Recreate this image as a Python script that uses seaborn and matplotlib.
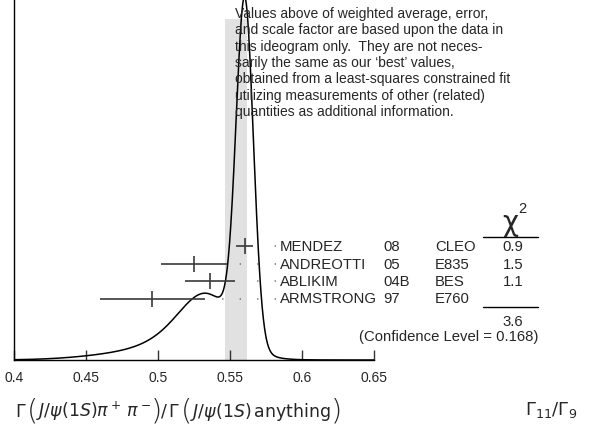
import numpy as np
import pandas as pd
import seaborn as sns
import matplotlib.pyplot as plt
from matplotlib.lines import Line2D

names = ["MENDEZ", "ANDREOTTI", "ABLIKIM", "ARMSTRONG"]
years = ["08", "05", "04B", "97"]
experiments = ["CLEO", "E835", "BES", "E760"]
values = [0.5602, 0.525, 0.536, 0.496]
errors = [0.0060, 0.023, 0.0174, 0.0367]
chi2 = ["0.9", "1.5", "1.1", ""]
chi2_total = "3.6"
conf_level = "0.168"
avg_value = 0.554
avg_error = 0.0075
xticks = [0.4, 0.45, 0.5, 0.55, 0.6, 0.65]

W, H = 589, 427

def fx(p):
    return p / W

def fy(p):
    return 1 - p / H

sns.set_style("white")
plt.rcParams['font.family'] = ['Liberation Sans', 'DejaVu Sans']
plt.rcParams['mathtext.fontset'] = 'dejavusans'
plt.rcParams['lines.scale_dashes'] = False

fig = plt.figure(figsize=(W / 100, H / 100), dpi=100)
ax = fig.add_axes([fx(14.3), 66 / H, (374 - 14.3) / W, 361 / H])

# ideogram: each measurement a gaussian with area ~ 1/sigma
df = pd.DataFrame({"name": names, "value": values, "error": errors})
xs = np.linspace(0.4, 0.65, 1500)
curve = np.zeros_like(xs)
for _, r in df.iterrows():
    curve += np.exp(-0.5 * ((xs - r.value) / r.error) ** 2) / r.error ** 2
curve = curve / curve.max() * 1.006

ax.axvspan(avg_value - avg_error, avg_value + avg_error, ymin=0, ymax=0.944,
           color="#e1e1e1", lw=0, zorder=0)
sns.lineplot(x=xs, y=curve, ax=ax, color="black", lw=1.1, zorder=3)

# data rows
fs = 10.7
row_top = (361 - 247.3) / 361
row_step = 17.4 / 361
dot_end = 0.5817
for i, r in df.iterrows():
    y = row_top - i * row_step
    ax.errorbar(r.value, y, xerr=r.error, fmt="|", color="#3a3a3a", ms=12,
                mew=1.2, elinewidth=1.2, capsize=0, zorder=4)
    ax.plot([dot_end, r.value + r.error + 0.004], [y, y], color="#777777",
            lw=1.1, linestyle=(0, (1, 11.6)), clip_on=False, zorder=2)
    ty = fy(361 - y * 361)
    fig.text(fx(280), ty, names[i], fontsize=fs, va="center")
    fig.text(fx(383), ty, years[i], fontsize=fs, va="center")
    fig.text(fx(435), ty, experiments[i], fontsize=fs, va="center")
    fig.text(fx(513), ty, chi2[i], fontsize=fs, va="center", ha="center")

fig.text(fx(510), fy(223), "\u03c7", fontsize=20, ha="center", va="center",
         family="DejaVu Sans")
fig.text(fx(522), fy(209), "2", fontsize=10.5, ha="center", va="center")
fig.add_artist(Line2D([fx(483), fx(538)], [fy(237.5)] * 2, color="black", lw=1))
fig.add_artist(Line2D([fx(483), fx(538)], [fy(307.7)] * 2, color="black", lw=1))
fig.text(fx(513), fy(322.3), chi2_total, fontsize=fs, ha="center", va="center")
fig.text(fx(538), fy(337.3), "(Confidence Level = " + conf_level + ")",
         fontsize=fs, ha="right", va="center")

note = ("Values above of weighted average, error,\n"
        "and scale factor are based upon the data in\n"
        "this ideogram only.  They are not neces-\n"
        "sarily the same as our \u2018best\u2019 values,\n"
        "obtained from a least-squares constrained fit\n"
        "utilizing measurements of other (related)\n"
        "quantities as additional information.")
fig.text(fx(235), fy(7), note, fontsize=10, va="top", ha="left", linespacing=1.21,
         zorder=5)

ax.set_xlim(0.4, 0.65)
ax.set_ylim(0, 1)
ax.set_xticks(xticks)
ax.set_xticklabels([f"{t:g}" for t in xticks])
ax.set_yticks([])
ax.tick_params(axis="x", bottom=True, direction="in", length=7, width=1,
               color="#333333", labelsize=10, pad=7)
for s in ["top", "right"]:
    ax.spines[s].set_visible(False)
for s in ["left", "bottom"]:
    ax.spines[s].set_color("black")
    ax.spines[s].set_linewidth(1)
ax.patch.set_alpha(0)

# x label built piece by piece so the parentheses can be tall
label_parts = [r"$\Gamma$", "(", r"$J/\psi(1S)\pi^+\,\pi^-$", ")",
               r"$/\,\Gamma$", "(", r"$J/\psi(1S)\,\mathrm{anything}$", ")"]
renderer = fig.canvas.get_renderer()
xpos = 15
for part in label_parts:
    if part in "()":
        t = fig.text(fx(xpos - 2), fy(412), part, fontsize=21, va="center",
                     family="DejaVu Sans", fontweight="light")
        xpos += t.get_window_extent(renderer).width - 4
    else:
        t = fig.text(fx(xpos), fy(417), part, fontsize=12.5, va="baseline")
        xpos += t.get_window_extent(renderer).width + 2

fig.text(fx(551), fy(410), r"$\Gamma_{11}/\Gamma_9$", fontsize=13, ha="center",
         va="center")

fig.savefig("out.png", dpi=100)
